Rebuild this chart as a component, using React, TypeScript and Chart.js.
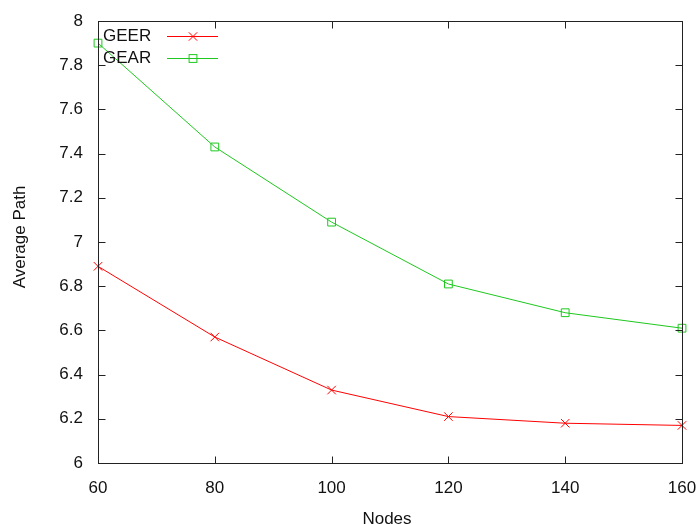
import React, { useEffect, useRef } from "react";
import { Chart, registerables } from "chart.js";

Chart.register(...registerables);

const nodes = [60, 80, 100, 120, 140, 160];
const geer = [6.89, 6.57, 6.33, 6.21, 6.18, 6.17];
const gear = [7.9, 7.43, 7.09, 6.81, 6.68, 6.61];
const seriesNames = ["GEER", "GEAR"];
const xTitle = "Nodes";
const yTitle = "Average Path";

const RED = "#ff0000";
const GREEN = "#1ec81e";
const FONT = "'Liberation Sans', Arial, sans-serif";

const framePlugin = {
  id: "gnuFrame",
  afterDatasetsDraw(chart: any) {
    const { ctx, chartArea: a, scales } = chart;
    const xs = scales.x;
    const ys = scales.y;
    ctx.save();
    ctx.strokeStyle = "#222";
    ctx.lineWidth = 1;
    const L = Math.round(a.left) + 0.5;
    const R = Math.round(a.right) + 0.5;
    const T = Math.round(a.top) + 0.5;
    const B = Math.round(a.bottom) + 0.5;
    ctx.strokeRect(L, T, R - L, B - T);
    const tl = 7;
    ctx.beginPath();
    ys.ticks.forEach((t: any) => {
      const y = Math.round(ys.getPixelForValue(t.value)) + 0.5;
      ctx.moveTo(L, y);
      ctx.lineTo(L + tl, y);
      ctx.moveTo(R, y);
      ctx.lineTo(R - tl, y);
    });
    xs.ticks.forEach((t: any) => {
      const x = Math.round(xs.getPixelForValue(t.value)) + 0.5;
      ctx.moveTo(x, B);
      ctx.lineTo(x, B - tl);
      ctx.moveTo(x, T);
      ctx.lineTo(x, T + tl);
    });
    ctx.stroke();

    // axis titles
    ctx.fillStyle = "#111";
    ctx.font = `17px ${FONT}`;
    ctx.textAlign = "center";
    ctx.textBaseline = "alphabetic";
    ctx.fillText(xTitle, 387, 524);
    ctx.save();
    ctx.translate(25, 237);
    ctx.rotate(-Math.PI / 2);
    ctx.fillText(yTitle, 0, 0);
    ctx.restore();

    // legend
    const rows = [
      { name: seriesNames[0], color: RED, y: 36 },
      { name: seriesNames[1], color: GREEN, y: 58 },
    ];
    rows.forEach((r) => {
      ctx.fillStyle = "#111";
      ctx.font = `17px ${FONT}`;
      ctx.textAlign = "left";
      ctx.textBaseline = "middle";
      ctx.fillText(r.name, 103, r.y);
      ctx.strokeStyle = r.color;
      ctx.lineWidth = 1;
      ctx.beginPath();
      ctx.moveTo(167, r.y + 0.5);
      ctx.lineTo(218, r.y + 0.5);
      ctx.stroke();
    });
    ctx.restore();
  },
};

const markerPlugin = {
  id: "legendMarkers",
  afterDraw(chart: any) {
    const ctx = chart.ctx;
    ctx.save();
    ctx.strokeStyle = RED;
    ctx.lineWidth = 1;
    const cx = 193, cy = 36.5, d = 4.2;
    ctx.beginPath();
    ctx.moveTo(cx - d, cy - d);
    ctx.lineTo(cx + d, cy + d);
    ctx.moveTo(cx - d, cy + d);
    ctx.lineTo(cx + d, cy - d);
    ctx.stroke();
    ctx.strokeStyle = GREEN;
    ctx.strokeRect(193 - 3.9, 58.5 - 3.9, 7.8, 7.8);
    ctx.restore();
  },
};

export default function App() {
  const ref = useRef<HTMLCanvasElement>(null);
  useEffect(() => {
    if (!ref.current) return;
    const chart = new Chart(ref.current, {
      type: "line",
      data: {
        datasets: [
          {
            label: seriesNames[0],
            data: nodes.map((x, i) => ({ x, y: geer[i] })),
            borderColor: RED,
            backgroundColor: "transparent",
            borderWidth: 1,
            pointStyle: "crossRot",
            pointRadius: 6,
            pointBorderColor: RED,
            pointBorderWidth: 1,
            tension: 0,
            clip: false,
          },
          {
            label: seriesNames[1],
            data: nodes.map((x, i) => ({ x, y: gear[i] })),
            borderColor: GREEN,
            backgroundColor: "transparent",
            borderWidth: 1,
            pointStyle: "rect",
            pointRadius: 5.5,
            pointBorderColor: GREEN,
            pointBackgroundColor: "transparent",
            pointBorderWidth: 1,
            tension: 0,
            clip: false,
          },
        ],
      },
      options: {
        responsive: false,
        animation: false,
        devicePixelRatio: 1,
        layout: { padding: { top: 21, right: 15, left: 0, bottom: 0 } },
        plugins: {
          legend: { display: false },
          tooltip: { enabled: false },
        },
        scales: {
          x: {
            type: "linear",
            min: 60,
            max: 160,
            grid: { display: false, drawTicks: false },
            border: { display: false },
            ticks: {
              stepSize: 20,
              padding: 15,
              color: "#111",
              font: { family: FONT, size: 17 },
              maxRotation: 0,
            },
            afterFit: (s: any) => {
              s.height = 61;
              s.paddingLeft = 0;
              s.paddingRight = 0;
            },
          },
          y: {
            type: "linear",
            min: 6,
            max: 8,
            grid: { display: false, drawTicks: false },
            border: { display: false },
            ticks: {
              stepSize: 0.2,
              padding: 15,
              color: "#111",
              font: { family: FONT, size: 17 },
              callback: (v: any) => String(Number(Number(v).toFixed(1))),
            },
            afterFit: (s: any) => {
              s.width = 98;
              s.paddingTop = 0;
              s.paddingBottom = 0;
            },
          },
        },
      },
      plugins: [framePlugin, markerPlugin],
    } as any);
    return () => chart.destroy();
  }, []);
  return (
    <div style={{ position: "absolute", left: 0, top: 0, width: 697, height: 524, background: "#fff" }}>
      <canvas ref={ref} width={697} height={524} style={{ display: "block" }} />
    </div>
  );
}
